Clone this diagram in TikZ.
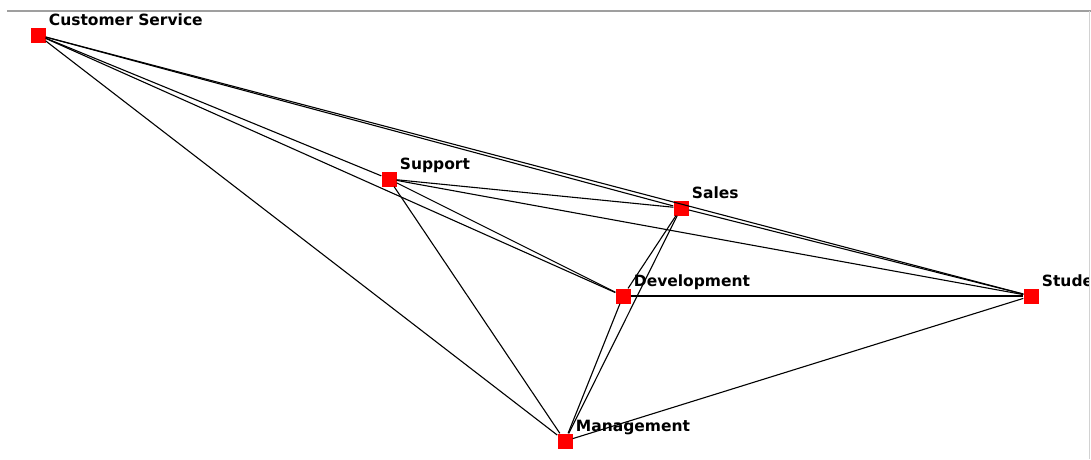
\documentclass[tikz,border=0pt]{standalone}
\usepackage{fontspec}
\setmainfont{DejaVu Sans}
\usepackage{tikz}

\begin{document}
\begin{tikzpicture}[x=1pt, y=-1pt,
    vertex/.style={fill=red, minimum size=15pt, inner sep=0pt},
    lbl/.style={anchor=base west, inner sep=0pt, xshift=3pt, yshift=2pt,
        font=\fontsize{15.5}{18}\selectfont\bfseries},
    link/.style={black, line width=1.1pt}]
    \useasboundingbox (0,0) rectangle (1091,459);

    % Window frame
    \draw[gray!75, line width=2pt] (7,11) -- (1091,11);
    \draw[gray!35, line width=1pt] (1089,11) -- (1089,459);

    \begin{scope}
    \clip (0,12) rectangle (1088,459);

    % Vertices
    \node[vertex, label={[lbl]north east:Customer Service}] (cs) at (38,35) {};
    \node[vertex, label={[lbl]north east:Support}] (support) at (389,179) {};
    \node[vertex, label={[lbl]north east:Sales}] (sales) at (681,208) {};
    \node[vertex, label={[lbl]north east:Development}] (dev) at (623,296) {};
    \node[vertex, label={[lbl]north east:Student}] (student) at (1031,296) {};
    \node[vertex, label={[lbl]north east:Management}] (mgmt) at (565,441) {};

    % Edges from Customer Service
    \draw[link] (cs) -- (sales);
    \draw[link] (cs) -- (student);
    \draw[link] (cs) -- (support);
    \draw[link] (cs) -- (dev);
    \draw[link] (cs) -- (mgmt);

    % Edges from Support
    \draw[link] (support) -- (sales);
    \draw[link] (support) -- (student);
    \draw[link] (support) -- (dev);
    \draw[link] (support) -- (mgmt);

    % Edges from Sales
    \draw[link] (sales) -- (student);
    \draw[link] (sales) -- (dev);
    \draw[link] (sales) -- (mgmt);

    % Remaining edges
    \draw[link] (dev) -- (student);
    \draw[link] (dev) -- (mgmt);
    \draw[link] (mgmt) -- (student);
    \end{scope}

\end{tikzpicture}
\end{document}
